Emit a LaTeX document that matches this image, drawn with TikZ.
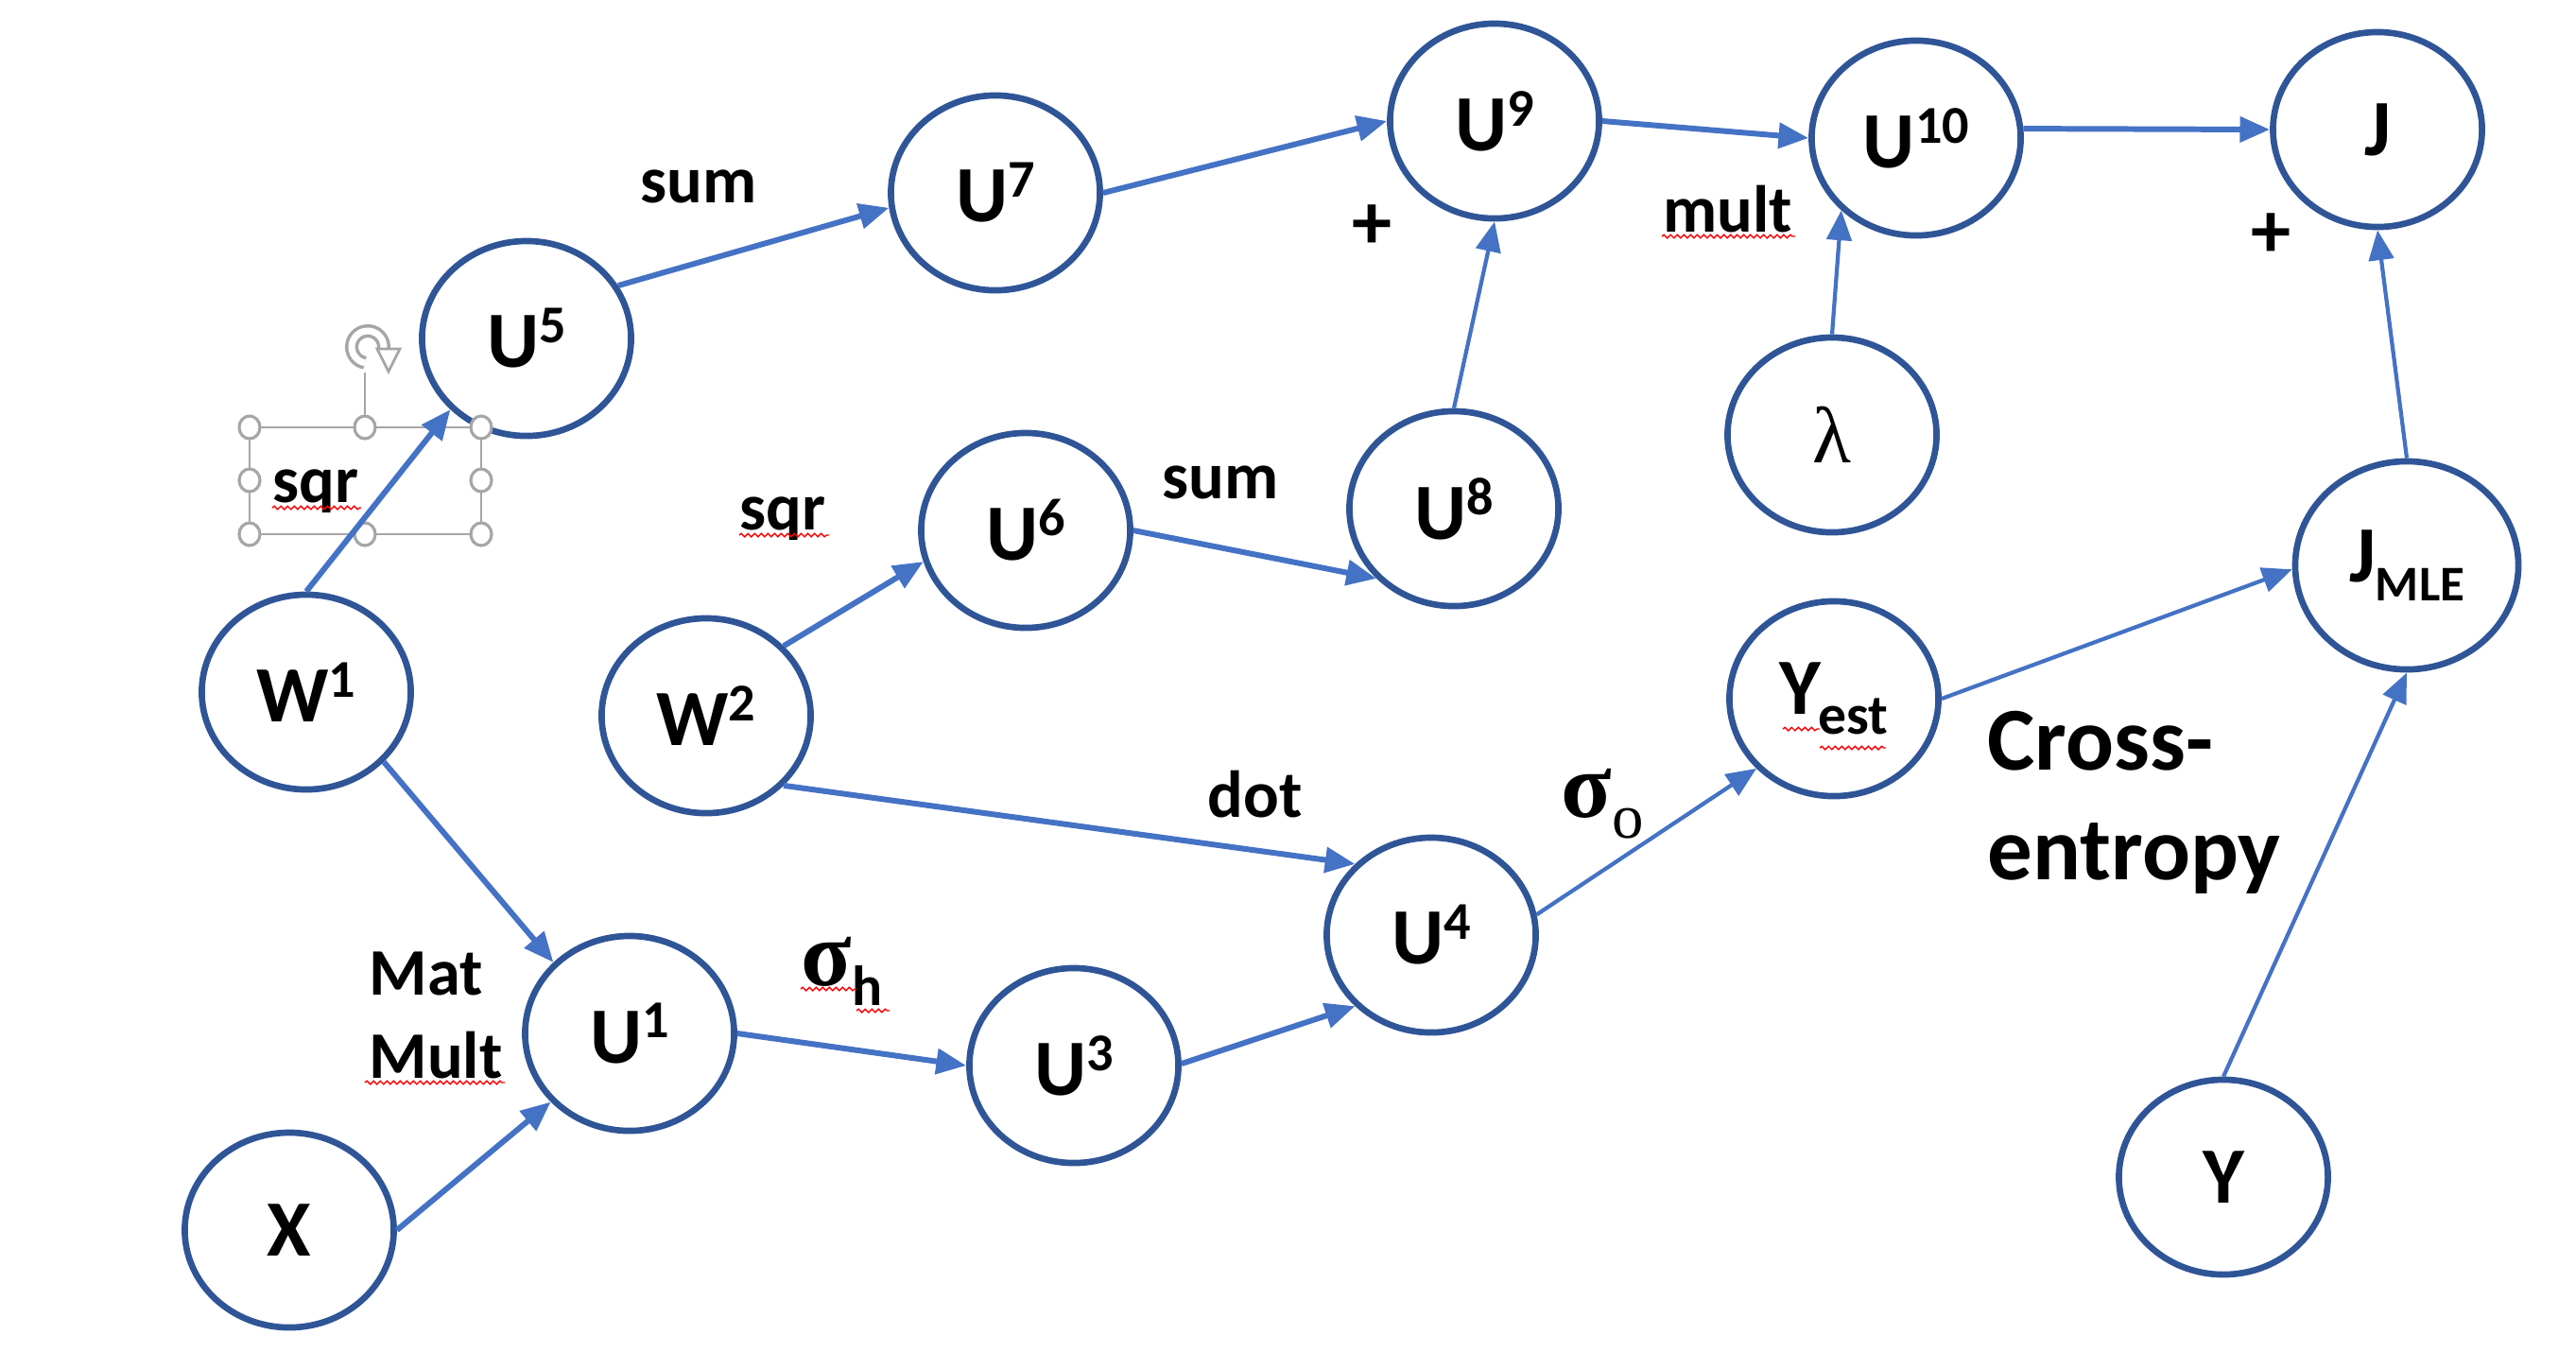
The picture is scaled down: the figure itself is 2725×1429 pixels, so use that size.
\documentclass[tikz,border=0pt]{standalone}
\usepackage{fontspec}
\setmainfont{Carlito}
\newfontfamily\serf{Liberation Serif}
\usetikzlibrary{arrows.meta,shapes.geometric,decorations.pathmorphing}
\definecolor{nodeblue}{HTML}{2F5597}
\definecolor{arrowblue}{HTML}{4472C4}
\definecolor{handlegray}{HTML}{A6A6A6}
\newcommand{\sups}[1]{\raisebox{7.4pt}{\fontsize{16}{16}\selectfont\bfseries #1}}
\newcommand{\subs}[2]{\raisebox{-5.8pt}{\fontsize{#1}{#1}\selectfont\bfseries #2}}
\begin{document}
\begin{tikzpicture}[x=0.01cm,y=-0.01cm,
  var/.style={ellipse, draw=nodeblue, fill=white, line width=1.9pt, minimum width=2.21cm, minimum height=2.06cm, inner sep=0pt, font=\fontsize{24}{28}\selectfont\bfseries},
  arr/.style={draw=arrowblue, line width=1.7pt, -{Triangle[length=9pt,width=7.5pt]}},
  arrthin/.style={arr, line width=1.2pt},
  lbl/.style={anchor=base west, inner sep=0pt, font=\fontsize{20}{24}\selectfont\bfseries},
  squig/.style={draw=red, line width=0.4pt, decorate, decoration={snake, amplitude=0.5pt, segment length=2pt}},
  handle/.style={ellipse, draw=handlegray, fill=white, line width=0.9pt, minimum width=0.22cm, minimum height=0.24cm, inner sep=0pt}
]
\useasboundingbox (0,0) rectangle (2725,1429);

% selection box around left "sqr"
\draw[handlegray, line width=0.6pt] (264,452) rectangle (509,565);
\draw[handlegray, line width=0.6pt] (386,452) -- (386,394);
\begin{scope}[shift={(389,367)}, y=0.01cm]
  \draw[handlegray, line width=4pt] (-20:17) arc[start angle=-20, end angle=260, radius=17];
  \draw[white, line width=2pt] (-20:17) arc[start angle=-20, end angle=260, radius=17];
  \draw[handlegray, fill=white, line width=0.8pt] (10,-2) -- (34,-2) -- (22,-26) -- cycle;
\end{scope}

% nodes
\node[var] (U5) at (557,358) {U\sups{5}};
\node[var] (U7) at (1053,204) {U\sups{7}};
\node[var] (U9) at (1581,128) {U\sups{9}};
\node[var] (U10) at (2027,146) {U\sups{10}};
\node[var] (J) at (2515,137) {J};
\node[var, font=\fontsize{24}{28}\selectfont\serf] (lam) at (1938,460) {λ};
\node[var] (U6) at (1085,561) {U\sups{6}};
\node[var] (U8) at (1538,538) {U\sups{8}};
\node[var] (W1) at (324,732) {W\sups{1}};
\node[var] (W2) at (747,757) {W\sups{2}};
\node[var, minimum width=2.36cm, minimum height=2.2cm] (JMLE) at (2546,598) {J\subs{15}{MLE}};
\node[var] (Yest) at (1940,739) {Y\kern-1pt\subs{17}{est}};
\node[var] (U4) at (1514,989) {U\sups{4}};
\node[var] (U1) at (666,1093) {U\sups{1}};
\node[var] (U3) at (1136,1127) {U\sups{3}};
\node[var] (X) at (306,1301) {X};
\node[var] (Y) at (2352,1245) {Y};

% handles
\foreach \n/\p in {h1/{(264,452)},h2/{(386,452)},h3/{(509,452)},h4/{(264,508)},h5/{(509,508)},h6/{(264,565)},h7/{(386,565)},h8/{(509,565)}}
  \node[handle] (\n) at \p {};

% connectors
\draw[arr] (W1.90) -- (U5.223);
\draw[arr] (W1.318) -- (U1.137);
\draw[arr] (X.0) -- (U1.221);
\draw[arr] (U1.0) -- (U3.180);
\draw[arr] (U3.1) -- (U4.223);
\draw[arr] (W2.318) -- (U4.137);
\draw[arr] (W2.42) -- (U6.197);
\draw[arr] (U6.0) -- (U8.222);
\draw[arrthin] (U8.90) -- (U9.270);
\draw[arr] (U5.30) -- (U7.188);
\draw[arr] (U7.0) -- (U9.180);
\draw[arr] (U9.0) -- (U10.180);
\draw[arr] (U10.5) -- (J.180);
\draw[arrthin] (lam.90) -- (U10.224);
\draw[arrthin] (U4.11) -- (Yest.222);
\draw[arrthin] (Yest.0) -- (JMLE.182);
\draw[arrthin] (Y.90) -- (JMLE.270);
\draw[arrthin] (JMLE.90) -- (J.270);

% labels
\node[lbl] (lsum1) at (677,214) {sum};
\node[lbl] (lsum2) at (1229,527) {sum};
\node[lbl] (lsqr1) at (288,531) {sqr};
\node[lbl] (lsqr2) at (782,560) {sqr};
\node[lbl] (lmult) at (1759,245) {mult};
\node[lbl] (lmat) at (390,1052) {Mat};
\node[lbl] (lmult2) at (390,1140) {Mult};
\node[lbl] (ldot) at (1277,864) {dot};
\node[anchor=center, inner sep=0pt, font=\fontsize{24}{28}\selectfont\bfseries] (lplus1) at (1451,240) {+};
\node[anchor=center, inner sep=0pt, font=\fontsize{24}{28}\selectfont\bfseries] (lplus2) at (2402,249) {+};
\node[lbl, font=\fontsize{27}{32}\selectfont\bfseries] (lcross) at (2102,814) {Cross-};
\node[lbl, font=\fontsize{27}{32}\selectfont\bfseries] (lentropy) at (2102,930) {entropy};
\node[anchor=base west, inner sep=0pt, font=\fontsize{28}{32}\selectfont\serf\bfseries] (lsigh) at (847,1042) {σ\raisebox{-6.2pt}{\fontsize{17}{17}\selectfont\rmfamily\bfseries h}};
\node[anchor=base west, inner sep=0pt, font=\fontsize{28}{32}\selectfont\serf\bfseries] (lsigo) at (1651,864) {σ\raisebox{-6.5pt}{\fontsize{19}{19}\selectfont\mdseries o}};

% spell-check squiggles
\draw[squig] (288,537) -- (382,537);
\draw[squig] (782,566) -- (877,566);
\draw[squig] (386,1145) -- (534,1145);
\draw[squig] (1758,250) -- (1899,250);
\draw[squig] (847,1046) -- (906,1046);
\draw[squig] (906,1069) -- (941,1069);
\draw[squig] (1886,771) -- (1925,771);
\draw[squig] (1925,791) -- (1995,791);
\end{tikzpicture}
\end{document}
